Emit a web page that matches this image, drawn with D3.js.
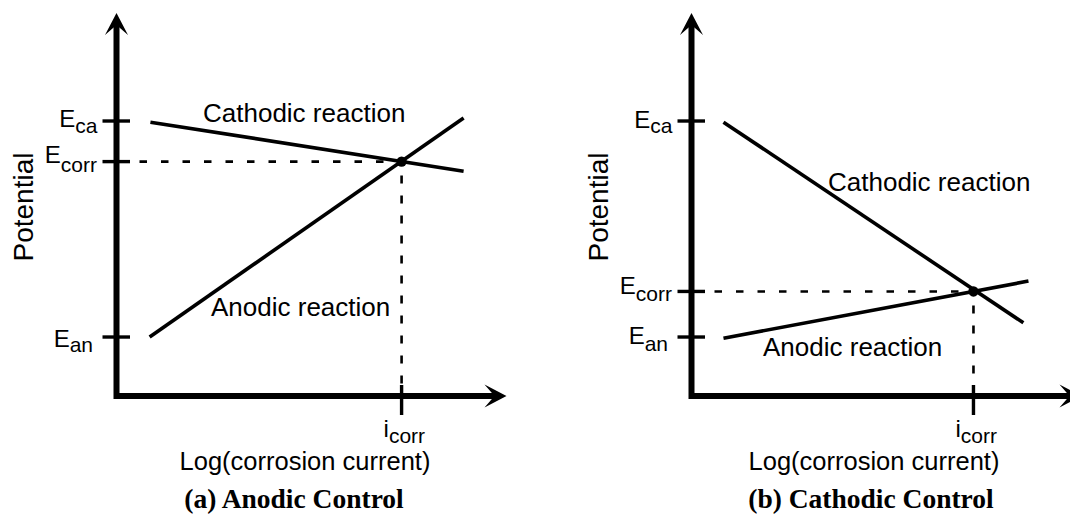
<!DOCTYPE html>
<html lang="en">
<head>
<meta charset="utf-8">
<script src="https://d3js.org/d3.v7.min.js"></script>
<title>Anodic and cathodic control</title>
<style>
  body { margin: 0; background: #fff; }
  text { font-family: "Liberation Sans", Arial, sans-serif; fill: #000; }
  .caption { font-family: "Liberation Serif", "Times New Roman", serif; font-weight: bold; }
</style>
</head>
<body>
<div id="chart"></div>
<script>
// values in axis units: 0 at the origin, 10 at each arrow tip
const captions = ["(a) Anodic Control", "(b) Cathodic Control"];
const curveNames = ["Cathodic reaction", "Anodic reaction"];
const levelNames = ["ca", "corr", "an"];
const xTitle = "Log(corrosion current)";
const yTitle = "Potential";

const levelsA = [7.18, 6.12, 1.54];   // E_ca, E_corr, E_an
const levelsB = [7.18, 2.73, 1.54];
const icorrA = 7.31;
const icorrB = 7.23;
const cathodicA = [[0.87, 7.15], [8.9, 5.87]];
const anodicA = [[0.85, 1.54], [8.9, 7.26]];
const cathodicB = [[0.82, 7.15], [8.51, 1.91]];
const anodicB = [[0.82, 1.51], [8.64, 3.0]];

const width = 1070, height = 524;
const axisLen = 390, baseY = 396, topY = 13;

// layout of each panel (pixels)
const panels = [
  { ox: 116.5, caption: captions[0], levels: levelsA, icorr: icorrA, lines: [cathodicA, anodicA],
    curveLabels: [[203, 122], [211, 316]], levelShift: [[6, 6], [1, 9], [9.5, 5]],
    xTitleX: 305, captionX: 294 },
  { ox: 691.5, caption: captions[1], levels: levelsB, icorr: icorrB, lines: [cathodicB, anodicB],
    curveLabels: [[828, 190.5], [763, 356]], levelShift: [[6.5, 5], [3, 7], [6.5, 7.5]],
    xTitleX: 874, captionX: 871 }
];
const labelEnd = [-19, -19.5, -23.5];

const svg = d3.select("#chart").append("svg")
    .attr("width", width)
    .attr("height", height)
    .style("display", "block");

svg.append("rect").attr("width", width).attr("height", height).attr("fill", "#fff");

const arrow = "M0,0 L-22,-11.5 L-12,0 L-22,11.5 Z";

panels.forEach(p => {
  const x = d3.scaleLinear().domain([0, 10]).range([p.ox, p.ox + axisLen]);
  const y = d3.scaleLinear().domain([0, 10]).range([baseY, topY]);
  const g = svg.append("g");
  const ecorr = p.levels[1];

  // dashed guides to the corrosion point
  g.append("line")
    .attr("x1", x(0) + 23).attr("x2", x(p.icorr))
    .attr("y1", y(ecorr)).attr("y2", y(ecorr))
    .attr("stroke", "#000").attr("stroke-width", 2.6)
    .attr("stroke-dasharray", "7.5,14");
  g.append("line")
    .attr("x1", x(p.icorr)).attr("x2", x(p.icorr))
    .attr("y1", y(ecorr) + 14).attr("y2", y(0))
    .attr("stroke", "#000").attr("stroke-width", 2.6)
    .attr("stroke-dasharray", "8,12");

  // reaction lines
  const line = d3.line().x(d => x(d[0])).y(d => y(d[1]));
  g.selectAll(".reaction").data(p.lines).join("path")
    .attr("class", "reaction")
    .attr("d", line)
    .attr("fill", "none").attr("stroke", "#000").attr("stroke-width", 3.6);

  // axes
  g.append("path")
    .attr("d", `M${x(0)},${y(10) + 8} L${x(0)},${y(0)} L${x(10) - 6},${y(0)}`)
    .attr("fill", "none").attr("stroke", "#000").attr("stroke-width", 6)
    .attr("stroke-linejoin", "miter");
  g.append("path").attr("d", arrow)
    .attr("transform", `translate(${x(10)},${y(0)})`).attr("fill", "#000");
  g.append("path").attr("d", arrow)
    .attr("transform", `translate(${x(0)},${y(10)}) rotate(-90)`).attr("fill", "#000");

  // potential ticks
  g.selectAll(".etick").data(p.levels).join("line")
    .attr("class", "etick")
    .attr("x1", x(0) - 14).attr("x2", x(0) + 13.5)
    .attr("y1", d => y(d)).attr("y2", d => y(d))
    .attr("stroke", "#000").attr("stroke-width", 3.4);
  // current tick
  g.append("line")
    .attr("x1", x(p.icorr)).attr("x2", x(p.icorr))
    .attr("y1", y(0) - 11).attr("y2", y(0) + 19)
    .attr("stroke", "#000").attr("stroke-width", 3.4);

  g.append("circle")
    .attr("cx", x(p.icorr)).attr("cy", y(ecorr)).attr("r", 5.2)
    .attr("fill", "#000");

  // E labels
  const elab = g.selectAll(".elabel").data(p.levels).join("text")
    .attr("class", "elabel")
    .attr("x", (d, i) => x(0) + labelEnd[i])
    .attr("y", (d, i) => y(d) + p.levelShift[i][0])
    .attr("text-anchor", "end")
    .style("font-size", "24px");
  elab.append("tspan").text("E");
  elab.append("tspan")
    .attr("dy", (d, i) => p.levelShift[i][1])
    .style("font-size", "21px")
    .text((d, i) => levelNames[i]);

  // i_corr label
  const il = g.append("text")
    .attr("x", x(p.icorr) - 18).attr("y", 437)
    .style("font-size", "24px");
  il.append("tspan").text("i");
  il.append("tspan").attr("dy", 6).style("font-size", "21px").text("corr");

  // curve labels
  g.selectAll(".clabel").data(curveNames).join("text")
    .attr("class", "clabel")
    .attr("x", (d, i) => p.curveLabels[i][0])
    .attr("y", (d, i) => p.curveLabels[i][1])
    .style("font-size", "26px")
    .text(d => d);

  // axis titles
  g.append("text")
    .attr("transform", `translate(${x(0) - 84},207) rotate(-90)`)
    .attr("text-anchor", "middle")
    .style("font-size", "28px")
    .text(yTitle);
  g.append("text")
    .attr("x", p.xTitleX).attr("y", 470)
    .attr("text-anchor", "middle")
    .style("font-size", "25.5px")
    .text(xTitle);

  g.append("text")
    .attr("class", "caption")
    .attr("x", p.captionX).attr("y", 508)
    .attr("text-anchor", "middle")
    .style("font-size", "27.5px")
    .text(p.caption);
});
</script>
</body>
</html>
